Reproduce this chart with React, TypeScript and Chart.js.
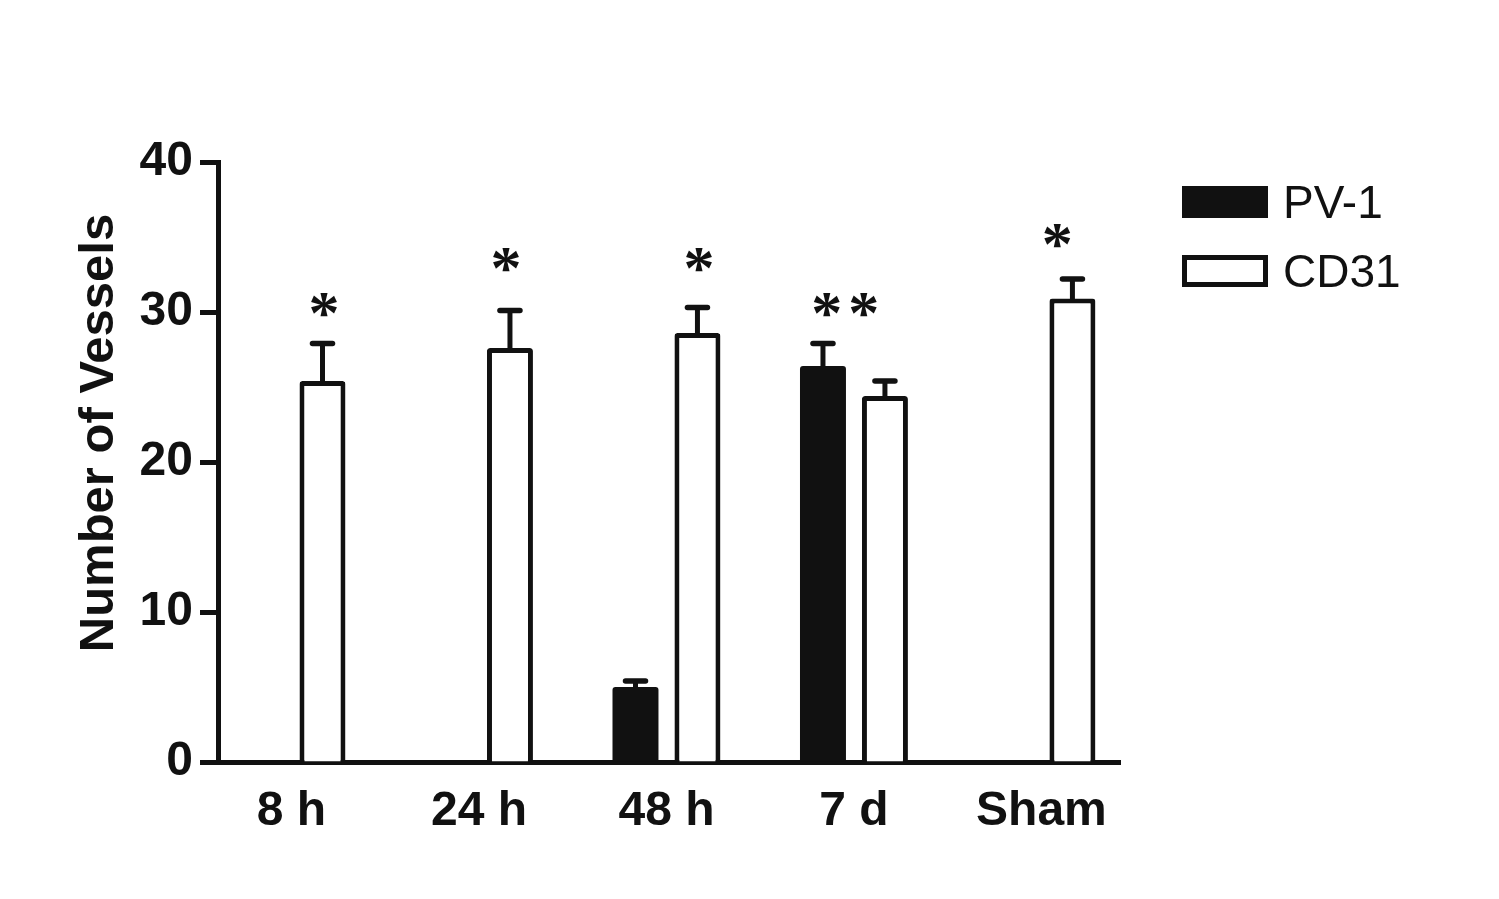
import React, { useEffect, useRef } from "react";
import { Chart, registerables } from "chart.js";

Chart.register(...registerables);

const categories = ["8 h", "24 h", "48 h", "7 d", "Sham"];
const seriesNames = ["PV-1", "CD31"];
const yAxisTitle = "Number of Vessels";
const pv1Values: (number | null)[] = [null, null, 5.0, 26.4, null];
const pv1Errors: (number | null)[] = [null, null, 0.4, 1.5, null];
const cd31Values: (number | null)[] = [25.4, 27.6, 28.6, 24.4, 30.9];
const cd31Errors: (number | null)[] = [2.5, 2.5, 1.7, 1.0, 1.3];
const yTicks = [0, 10, 20, 30, 40];
const starLabels = ["*", "*", "*", "**", "*"];
const starX = [0.19, 1.16, 2.19, 2.97, 4.1];
const starY = [30.5, 33.5, 33.5, 30.5, 35.1];

const INK = "#111111";

const toPoints = (vals: (number | null)[], errs: (number | null)[]) =>
  vals
    .map((v, i) => (v === null ? null : { x: i, y: v, err: errs[i] ?? 0 }))
    .filter((p) => p !== null) as { x: number; y: number; err: number }[];

const errorBarPlugin = {
  id: "errorBars",
  afterDatasetsDraw(chart: any) {
    const { ctx } = chart;
    const yScale = chart.scales.y;
    ctx.save();
    ctx.strokeStyle = INK;
    chart.data.datasets.forEach((ds: any, di: number) => {
      const meta = chart.getDatasetMeta(di);
      meta.data.forEach((el: any, i: number) => {
        const p = ds.data[i];
        const yErr = yScale.getPixelForValue(p.y + p.err);
        ctx.beginPath();
        ctx.lineWidth = 5;
        ctx.lineCap = "butt";
        ctx.moveTo(el.x, el.y + 1);
        ctx.lineTo(el.x, yErr);
        ctx.stroke();
        ctx.beginPath();
        ctx.lineWidth = 5.5;
        ctx.lineCap = "round";
        ctx.moveTo(el.x - 10, yErr);
        ctx.lineTo(el.x + 10, yErr);
        ctx.stroke();
      });
    });
    ctx.restore();
  },
};

const starsPlugin = {
  id: "stars",
  afterDatasetsDraw(chart: any) {
    const { ctx } = chart;
    const xs = chart.scales.x;
    const ys = chart.scales.y;
    ctx.save();
    ctx.fillStyle = INK;
    ctx.font = 'bold 62px "Liberation Serif"';
    ctx.textAlign = "center";
    ctx.textBaseline = "alphabetic";
    try {
      (ctx as any).letterSpacing = "6px";
    } catch (e) {}
    starLabels.forEach((s, i) => {
      const m = ctx.measureText(s);
      const cx = xs.getPixelForValue(starX[i]);
      const cy = ys.getPixelForValue(starY[i]);
      const asc = m.actualBoundingBoxAscent;
      const desc = m.actualBoundingBoxDescent;
      const base = cy + (asc - desc) / 2;
      ctx.fillText(s, cx, base);
    });
    ctx.restore();
  },
};

const yTitlePlugin = {
  id: "yTitle",
  afterDraw(chart: any) {
    const { ctx, chartArea } = chart;
    ctx.save();
    ctx.fillStyle = INK;
    ctx.font = 'bold 49px "Liberation Sans"';
    ctx.textAlign = "center";
    ctx.textBaseline = "alphabetic";
    const cy = chartArea.top + (chartArea.bottom - chartArea.top) / 2 - 29;
    ctx.translate(chartArea.left - 105, cy);
    ctx.rotate(-Math.PI / 2);
    ctx.fillText(yAxisTitle, 0, 0);
    ctx.restore();
  },
};

const legendPlugin = {
  id: "customLegend",
  afterDraw(chart: any) {
    const { ctx, chartArea } = chart;
    const x0 = chartArea.right + 62;
    ctx.save();
    ctx.font = '46px "Liberation Sans"';
    ctx.textAlign = "left";
    ctx.textBaseline = "alphabetic";
    chart.data.datasets.forEach((ds: any, i: number) => {
      const top = chartArea.top + 24 + i * 69;
      const w = 86;
      const h = 32;
      if (ds.backgroundColor !== "#ffffff") {
        ctx.fillStyle = INK;
        ctx.fillRect(x0, top, w, h);
      } else {
        ctx.strokeStyle = INK;
        ctx.lineWidth = 5;
        ctx.strokeRect(x0 + 2.5, top + 2.5, w - 5, h - 5);
      }
      ctx.fillStyle = INK;
      ctx.fillText(ds.label, x0 + 101, top + h);
    });
    ctx.restore();
  },
};

export default function App() {
  const canvasRef = useRef<HTMLCanvasElement | null>(null);

  useEffect(() => {
    document.body.style.margin = "0";
    const canvas = canvasRef.current;
    if (!canvas) return;
    const chart = new Chart(canvas, {
      type: "bar",
      data: {
        datasets: [
          {
            label: seriesNames[0],
            data: toPoints(pv1Values, pv1Errors) as any,
            backgroundColor: INK,
            borderColor: INK,
            borderWidth: 0,
            borderRadius: 3,
            borderSkipped: "start",
          },
          {
            label: seriesNames[1],
            data: toPoints(cd31Values, cd31Errors) as any,
            backgroundColor: "#ffffff",
            borderColor: INK,
            borderWidth: 5,
            borderRadius: 3,
            borderSkipped: "start",
          },
        ],
      },
      plugins: [errorBarPlugin, starsPlugin, yTitlePlugin, legendPlugin],
      options: {
        responsive: false,
        animation: false,
        devicePixelRatio: 1,
        categoryPercentage: 0.661,
        barPercentage: 0.742,
        layout: { padding: { left: 0, top: 162, right: 379, bottom: 0 } },
        plugins: {
          legend: { display: false },
          tooltip: { enabled: false },
        },
        scales: {
          x: {
            type: "linear",
            min: -0.392,
            max: 4.419,
            offset: false,
            afterBuildTicks: (scale: any) => {
              scale.ticks = categories.map((_, i) => ({ value: i }));
            },
            afterFit: (scale: any) => {
              scale.height = 899 - 762;
            },
            grid: { display: false, drawTicks: false, offset: false },
            border: { display: true, width: 5, color: INK },
            ticks: {
              autoSkip: false,
              maxRotation: 0,
              padding: 20.6,
              color: INK,
              font: { family: '"Liberation Sans"', size: 48, weight: "bold" },
              callback: (v: any) => categories[Math.round(Number(v))] ?? "",
            },
          },
          y: {
            min: 0,
            max: 40,
            afterBuildTicks: (scale: any) => {
              scale.ticks = yTicks.map((v) => ({ value: v }));
            },
            afterFit: (scale: any) => {
              scale.width = 218;
            },
            grid: {
              display: true,
              drawOnChartArea: false,
              drawTicks: true,
              tickLength: 18,
              tickWidth: 5,
              tickColor: INK,
            },
            border: { display: true, width: 5, color: INK },
            ticks: {
              padding: 7,
              color: INK,
              font: { family: '"Liberation Sans"', size: 48, weight: "bold" },
            },
            title: { display: false },
          },
        },
      } as any,
    });
    return () => chart.destroy();
  }, []);

  return (
    <div style={{ width: 1499, height: 899 }}>
      <canvas ref={canvasRef} width={1499} height={899} style={{ display: "block" }} />
    </div>
  );
}
